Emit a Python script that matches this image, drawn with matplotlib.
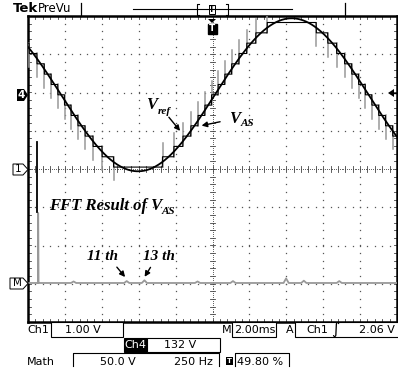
import numpy as np
import matplotlib.pyplot as plt
from matplotlib.patches import Polygon, Rectangle

tempo_div = 2.0        # ms/div
freq_rede = 60.0       # Hz
vref_offset = 1.94     # nível do Ch4
vref_amp = 2.0
t_minimo = 2.98        # posição do mínimo da onda
degrau = 0.27          # altura dos degraus de V_AS
pico = 0.35            # picos de comutação (cinzento)

fft_span = 250.0       # Hz/div
fft_base = -2.98
harm_ordem = [1, 5, 11, 13, 19, 23, 29, 31, 35]
harm_altura = [1.83, 0.04, 0.05, 0.07, 0.04, 0.05, 0.12, 0.06, 0.05]
fund_preto = (-1.12, 0.71)

txt_ch1 = ["Ch1", "1.00 V"]
txt_base = ["M", "2.00ms", "A", "Ch1", "2.06 V"]
txt_ch4 = ["Ch4", "132 V"]
txt_math = ["Math", "50.0 V", "250 Hz", "49.80 %"]

cinza = '#999999'
serif = dict(family='Liberation Serif', style='italic', weight='bold')
mono = dict(family='DejaVu Sans', fontsize=8)

fig = plt.figure(figsize=(3.98, 3.73), dpi=100)
W, H = 398, 373

# ecrã do osciloscópio
ax = fig.add_axes([28 / W, (H - 322) / H, 369 / W, 306 / H])
ax.set_xlim(0, 10)
ax.set_ylim(-4, 4)
ax.set_xticks([])
ax.set_yticks([])
for s in ax.spines.values():
    s.set_linewidth(1.8)

# grelha pontilhada
pts = np.arange(0.2, 10, 0.2)
ptsy = np.arange(-3.8, 4, 0.2)
for gx in range(1, 10):
    if gx != 5:
        ax.plot([gx] * len(ptsy), ptsy, ls='none', marker='s', ms=0.9, color='#555555', mew=0)
for gy in range(-3, 4):
    if gy != 0:
        ax.plot(pts, [gy] * len(pts), ls='none', marker='s', ms=0.9, color='#555555', mew=0)
# linhas centrais
ax.plot(np.arange(0, 10, 0.05), np.zeros(200), ls='none', marker='s', ms=0.7, color='#666666', mew=0)
ax.plot(np.full(160, 5), np.arange(-4, 4, 0.05), ls='none', marker='s', ms=0.7, color='#666666', mew=0)
for x in pts:
    ax.plot([x, x], [-0.08, 0.08], color='#444444', lw=0.6)
    ax.plot([x, x], [3.92, 4], color='#444444', lw=0.6)
    ax.plot([x, x], [-4, -3.92], color='#444444', lw=0.6)
for y in ptsy:
    ax.plot([4.92, 5.08], [y, y], color='#444444', lw=0.6)
    ax.plot([0, 0.08], [y, y], color='#444444', lw=0.6)
    ax.plot([9.92, 10], [y, y], color='#444444', lw=0.6)

# formas de onda
periodo = 1000.0 / freq_rede / tempo_div
t = np.linspace(0, 10, 2001)
vref = vref_offset - vref_amp * np.cos(2 * np.pi * (t - t_minimo) / periodo)
k = np.round((vref - vref_offset) / degrau)
vas = vref_offset + k * degrau

for i in np.where(np.diff(k) != 0)[0]:
    d = np.sign(k[i + 1] - k[i])
    ax.plot([t[i + 1]] * 2, [vas[i + 1] - d * degrau, vas[i + 1] + d * pico],
            color=cinza, lw=1.1, zorder=3)
ax.plot(t, vas, color='black', lw=0.8, zorder=4)
ax.plot(t, vref, color='black', lw=1.3, zorder=5)

# FFT
xf = [n * freq_rede / fft_span for n in harm_ordem]
fx = [0, xf[0], xf[0], xf[0] + 0.01]
fy = [fft_base, fft_base, fft_base + harm_altura[0], fft_base]
for x, h in zip(xf[1:], harm_altura[1:]):
    fx += [x - 0.07, x, x + 0.07]
    fy += [fft_base, fft_base + h, fft_base]
fx.append(10)
fy.append(fft_base)
ax.plot(np.array(fx) + 0.035, fy, color=cinza, lw=1.3, zorder=4)
ax.plot([xf[0], xf[0]], fund_preto, color='black', lw=1.3, zorder=4)

# anotações
ax.text(3.36, 1.67, 'V', fontsize=12, ha='center', va='center', **serif)
ax.text(3.52, 1.50, 'ref', fontsize=8, ha='left', va='center', **serif)
ax.annotate('', xy=(4.17, 0.94), xytext=(3.77, 1.41),
            arrowprops=dict(arrowstyle='-|>', color='black', lw=1, mutation_scale=8))
ax.text(5.61, 1.31, 'V', fontsize=12, ha='center', va='center', **serif)
ax.text(5.76, 1.18, 'AS', fontsize=8, ha='left', va='center', **serif)
ax.annotate('', xy=(4.63, 1.12), xytext=(5.28, 1.25),
            arrowprops=dict(arrowstyle='-|>', color='black', lw=1, mutation_scale=8))
ax.text(0.57, -0.97, 'FFT Result of V', fontsize=12, ha='left', va='center', **serif)
ax.text(3.62, -1.10, 'AS', fontsize=8, ha='left', va='center', **serif)
ax.text(2.03, -2.30, '11 th', fontsize=11, ha='center', va='center', **serif)
ax.text(3.55, -2.30, '13 th', fontsize=11, ha='center', va='center', **serif)
ax.annotate('', xy=(2.68, -2.88), xytext=(2.36, -2.51),
            arrowprops=dict(arrowstyle='-|>', color='black', lw=1, mutation_scale=8))
ax.annotate('', xy=(3.12, -2.88), xytext=(3.36, -2.51),
            arrowprops=dict(arrowstyle='-|>', color='black', lw=1, mutation_scale=8))

# camada exterior (pixels)
ao = fig.add_axes([0, 0, 1, 1])
ao.set_xlim(0, W)
ao.set_ylim(H, 0)
ao.axis('off')
ao.patch.set_alpha(0)

# barra de topo
ao.text(13, 9, 'Tek', fontsize=9.5, weight='bold', va='center', family='DejaVu Sans')
ao.text(38, 9, 'PreVu', fontsize=8.5, va='center', family='DejaVu Sans')
ao.plot([81, 81], [3, 16], color='black', lw=0.9)
ao.plot([133, 292], [9, 9], color='black', lw=0.8)
ao.plot([199, 197, 197, 199], [4, 4, 15, 15], color='black', lw=0.8)
ao.plot([226, 228, 228, 226], [4, 4, 15, 15], color='black', lw=0.8)
ao.plot([345, 345], [3, 16], color='black', lw=0.9)
ao.add_patch(Rectangle((209, 5), 6, 9, fc='white', ec='black', lw=0.7))
ao.text(212, 9.5, 'T', fontsize=5.5, ha='center', va='center', weight='bold')

# marcador de trigger
ao.add_patch(Polygon([(208, 19), (216, 19), (212, 23)], closed=True, fc='black'))
ao.add_patch(Rectangle((207.5, 23.5), 9, 10, fc='black', ec='black'))
ao.text(212, 28.5, 'T', fontsize=6.5, ha='center', va='center', weight='bold', color='white')

# marcadores à esquerda
ao.add_patch(Polygon([(17, 89), (24, 89), (28, 95), (24, 101), (17, 101)], fc='black'))
ao.text(21, 95, '4', fontsize=7.5, ha='center', va='center', weight='bold', color='white')
ao.add_patch(Polygon([(13, 164), (23, 164), (28, 169.5), (23, 175), (13, 175)],
                     fc='white', ec='black', lw=0.7))
ao.text(18, 169.5, '1', fontsize=7.5, ha='center', va='center')
ao.add_patch(Polygon([(10, 278), (23, 278), (28, 283.5), (23, 289), (10, 289)],
                     fc='white', ec='black', lw=0.7))
ao.text(17, 283.5, 'M', fontsize=7.5, ha='center', va='center')

# marcador à direita
ao.add_patch(Polygon([(388, 93), (394, 89), (394, 97)], fc='black'))
ao.plot([394, 397], [93, 93], color='black', lw=1)

# caixas de baixo
def caixa(x0, x1, y0, y1, fundo='white'):
    ao.add_patch(Rectangle((x0, y0), x1 - x0, y1 - y0, fc=fundo, ec='black', lw=0.8))

caixa(51, 123, 322, 337)
ao.text(27, 330, txt_ch1[0], va='center', **mono)
ao.text(65, 330, txt_ch1[1], va='center', **mono)
ao.text(222, 330, txt_base[0], va='center', **mono)
caixa(232, 276, 322, 337)
ao.text(234, 330, txt_base[1], va='center', **mono)
ao.text(286, 330, txt_base[2], va='center', **mono)
caixa(295, 399, 322, 337)
ao.text(306, 330, txt_base[3], va='center', **mono)
ao.text(331, 330, r'$\int$', va='center', fontsize=8, style='italic')
ao.text(395, 330, txt_base[4], va='center', ha='right', **mono)

caixa(124, 147, 338, 352, fundo='black')
ao.text(135.5, 345, txt_ch4[0], va='center', ha='center', color='white', **mono)
caixa(147, 220, 338, 352)
ao.text(164, 345, txt_ch4[1], va='center', **mono)

ao.text(27, 362, txt_math[0], va='center', **mono)
ao.plot([73, 73, 219, 219], [366, 353, 353, 366], color='black', lw=0.8)
ao.text(100, 362, txt_math[1], va='center', **mono)
ao.text(213, 362, txt_math[2], va='center', ha='right', **mono)
ao.add_patch(Rectangle((225.5, 357), 7, 8, fc='black'))
ao.text(229, 361, 'T', fontsize=5, ha='center', va='center', color='white', weight='bold')
ao.plot([235, 235, 289, 289], [366, 353, 353, 366], color='black', lw=0.8)
ao.text(237, 362, txt_math[3], va='center', **mono)

fig.savefig('out.png', dpi=100)
